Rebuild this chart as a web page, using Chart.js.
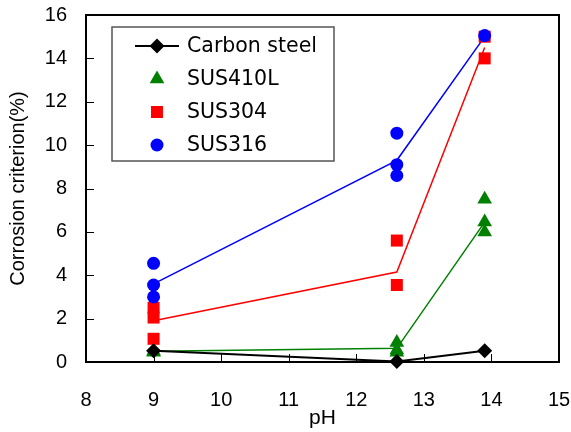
<!DOCTYPE html>
<html>
<head>
<meta charset="utf-8">
<script src="https://cdn.jsdelivr.net/npm/chart.js@4.4.1/dist/chart.umd.min.js"></script>
<style>
  html, body { margin: 0; padding: 0; background: #fff; }
</style>
</head>
<body>
<canvas id="grafico" width="571" height="432"></canvas>
<script>
// Datos
const phCarbono = [9, 12.6, 13.9];
const carbonSteel = [0.52, 0.02, 0.52];

const phSus410L = [9, 9, 12.6, 12.6, 12.6, 13.9, 13.9, 13.9];
const sus410L = [0.45, 0.5, 0.9, 0.55, 0.45, 7.5, 6.45, 6.0];

const phSus304 = [9, 9, 9, 12.6, 12.6, 13.9, 13.9];
const sus304 = [2.5, 2.05, 1.07, 5.6, 3.55, 15.0, 14.0];

const phSus316 = [9, 9, 9, 12.6, 12.6, 12.6, 13.9];
const sus316 = [4.55, 3.55, 3.0, 10.55, 9.1, 8.6, 15.05];

// lineas de tendencia
const phTendencia = [9, 12.6, 13.9];
const sus410LTendencia = [0.5, 0.63, 6.45];
const sus304Tendencia = [1.9, 4.15, 14.5];
const sus316Tendencia = [3.6, 9.3, 15.0];

const ticksX = [8, 9, 10, 11, 12, 13, 14, 15];
const ticksY = [0, 2, 4, 6, 8, 10, 12, 14, 16];

function puntos(xs, ys) {
  return xs.map((x, i) => ({ x: x, y: ys[i] }));
}

const fuenteTicks = "'Liberation Sans', Arial, sans-serif";
const fuenteLeyenda = "'DejaVu Sans', sans-serif";

/*******************************************************************************/
// Marco y marcas hacia adentro
const marcoPlugin = {
  id: 'marco',
  beforeDatasetsDraw(chart) {
    const ctx = chart.ctx;
    const area = chart.chartArea;
    ctx.save();
    ctx.strokeStyle = '#000';
    ctx.lineWidth = 1;
    chart.scales.y.ticks.forEach((t) => {
      const y = Math.round(chart.scales.y.getPixelForValue(t.value)) + 0.5;
      ctx.beginPath();
      ctx.moveTo(area.left, y);
      ctx.lineTo(area.left + 8, y);
      ctx.stroke();
    });
    chart.scales.x.ticks.forEach((t) => {
      const x = Math.round(chart.scales.x.getPixelForValue(t.value)) + 0.5;
      ctx.beginPath();
      ctx.moveTo(x, area.bottom);
      ctx.lineTo(x, area.bottom - 8);
      ctx.stroke();
    });
    ctx.lineWidth = 2;
    ctx.strokeRect(area.left, area.top, area.right - area.left, area.bottom - area.top);
    ctx.restore();
  }
};

/*******************************************************************************/
// Leyenda con recuadro
const leyendaPlugin = {
  id: 'leyenda',
  afterDraw(chart) {
    const ctx = chart.ctx;
    const items = chart.data.datasets.filter((d) => d.enLeyenda);
    ctx.save();
    ctx.fillStyle = '#fff';
    ctx.fillRect(112, 27, 222, 134);
    ctx.strokeStyle = '#555';
    ctx.lineWidth = 1.5;
    ctx.strokeRect(112, 27, 222, 134);
    items.forEach((d, i) => {
      const y = 46 + i * 33;
      if (d.showLine) {
        ctx.strokeStyle = d.borderColor;
        ctx.lineWidth = d.borderWidth;
        ctx.beginPath();
        ctx.moveTo(135, y);
        ctx.lineTo(179, y);
        ctx.stroke();
      }
      ctx.fillStyle = d.pointBackgroundColor;
      Chart.helpers.drawPoint(ctx, {
        pointStyle: d.pointStyle,
        radius: d.pointRadius,
        rotation: 0,
        borderWidth: 0
      }, 157, y);
      ctx.fillStyle = '#000';
      ctx.font = "20.5px " + fuenteLeyenda;
      ctx.textBaseline = 'middle';
      ctx.textAlign = 'left';
      ctx.fillText(d.label, 187, y + 1);
    });
    ctx.restore();
  }
};

/*******************************************************************************/
// Grafico
function serieMarcas(label, xs, ys, color, estilo, radio, orden) {
  return {
    label: label,
    data: puntos(xs, ys),
    showLine: false,
    pointStyle: estilo,
    pointRadius: radio,
    pointHoverRadius: radio,
    pointBackgroundColor: color,
    pointBorderColor: color,
    pointBorderWidth: 0,
    borderColor: color,
    order: orden,
    clip: false,
    enLeyenda: true
  };
}

function serieTendencia(xs, ys, color, orden) {
  return {
    label: '',
    data: puntos(xs, ys),
    showLine: true,
    borderColor: color,
    borderWidth: 1.5,
    pointRadius: 0,
    pointHoverRadius: 0,
    tension: 0,
    order: orden,
    clip: false,
    enLeyenda: false
  };
}

function sinRelleno(s) {
  s.paddingTop = 0;
  s.paddingBottom = 0;
  s.paddingLeft = 0;
  s.paddingRight = 0;
}

const ctx = document.getElementById('grafico').getContext('2d');
new Chart(ctx, {
  type: 'scatter',
  data: {
    datasets: [
      {
        label: 'Carbon steel',
        data: puntos(phCarbono, carbonSteel),
        showLine: true,
        borderColor: '#000',
        borderWidth: 2,
        pointStyle: 'rectRot',
        pointRadius: 7.5,
        pointHoverRadius: 7.5,
        pointBackgroundColor: '#000',
        pointBorderColor: '#000',
        pointBorderWidth: 0,
        tension: 0,
        order: 0,
        clip: false,
        enLeyenda: true
      },
      serieMarcas('SUS410L', phSus410L, sus410L, '#008000', 'triangle', 8.5, 3),
      serieMarcas('SUS304', phSus304, sus304, '#ff0000', 'rect', 8.5, 2),
      serieMarcas('SUS316', phSus316, sus316, '#0000ff', 'circle', 6.5, 1),
      serieTendencia(phTendencia, sus410LTendencia, '#008000', 6),
      serieTendencia(phTendencia, sus304Tendencia, '#ff0000', 5),
      serieTendencia(phTendencia, sus316Tendencia, '#0000ff', 4)
    ]
  },
  options: {
    responsive: false,
    animation: false,
    layout: { padding: { top: 15, right: 12, left: 0, bottom: 0 } },
    plugins: {
      legend: { display: false },
      tooltip: { enabled: false }
    },
    scales: {
      x: {
        type: 'linear',
        min: 8,
        max: 15,
        afterBuildTicks: (s) => { s.ticks = ticksX.map((v) => ({ value: v })); },
        afterFit: (s) => { s.height = 70; sinRelleno(s); },
        grid: { display: false, drawTicks: false },
        border: { display: true, color: '#000', width: 2 },
        ticks: {
          color: '#000',
          padding: 26,
          maxRotation: 0,
          font: { family: fuenteTicks, size: 20 }
        },
        title: {
          display: true,
          text: 'pH',
          color: '#000',
          padding: { top: 0, bottom: 1 },
          font: { family: fuenteTicks, size: 21 }
        }
      },
      y: {
        type: 'linear',
        min: 0,
        max: 16,
        afterBuildTicks: (s) => { s.ticks = ticksY.map((v) => ({ value: v })); },
        afterFit: (s) => { s.width = 86; sinRelleno(s); },
        grid: { display: false, drawTicks: false },
        border: { display: true, color: '#000', width: 2 },
        ticks: {
          color: '#000',
          padding: 19,
          font: { family: fuenteTicks, size: 20 }
        },
        title: {
          display: true,
          text: 'Corrosion criterion(%)',
          color: '#000',
          padding: { top: 6, bottom: 0 },
          font: { family: fuenteTicks, size: 20 }
        }
      }
    }
  },
  plugins: [marcoPlugin, leyendaPlugin]
});
</script>
</body>
</html>
